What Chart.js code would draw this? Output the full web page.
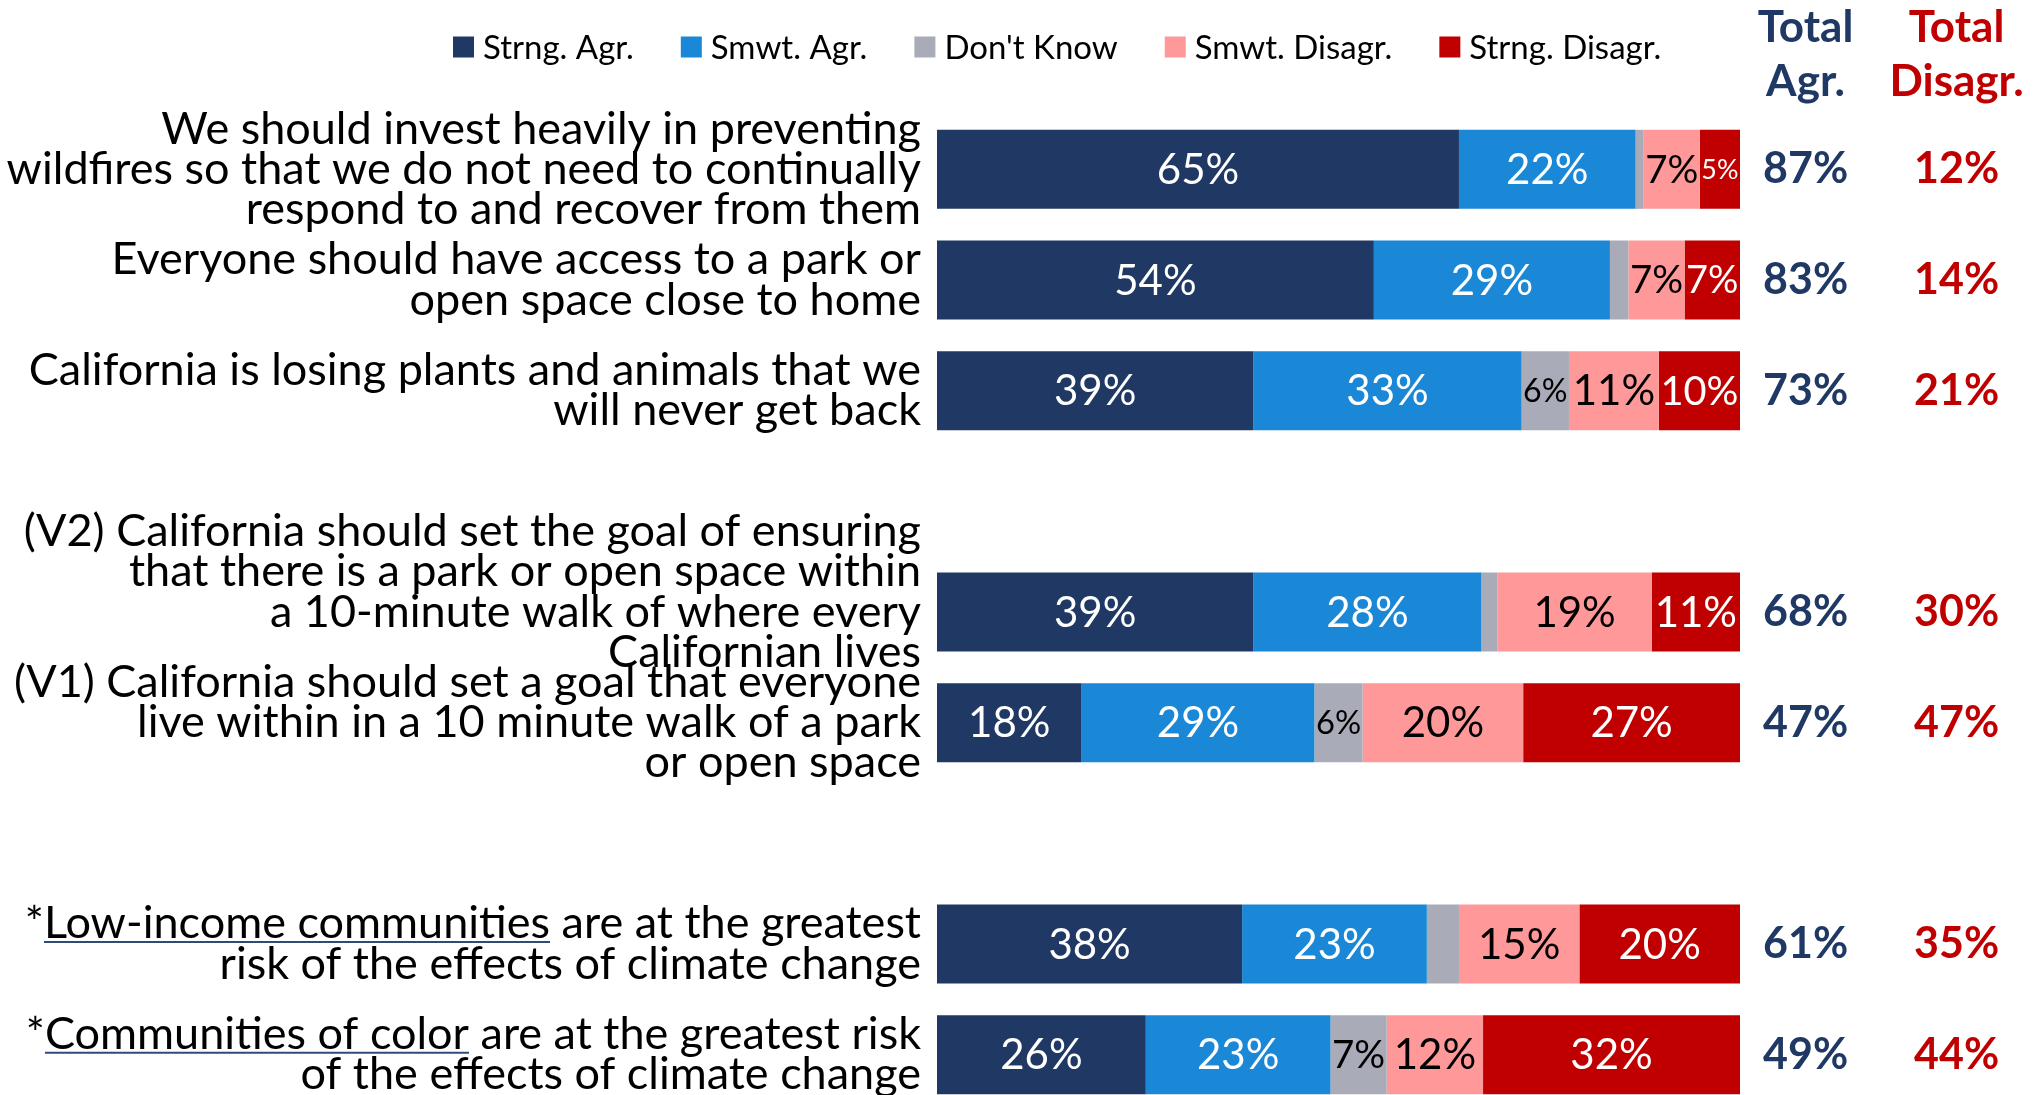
<!DOCTYPE html>
<html>
<head>
<meta charset="utf-8">
<script src="https://cdn.jsdelivr.net/npm/chart.js@4.4.1/dist/chart.umd.min.js"></script>
<style>
  html, body { margin: 0; padding: 0; background: #fff; overflow: hidden; }
  #wrap { width: 2036px; height: 1110px; }
</style>
</head>
<body>
<div id="wrap"><canvas id="chart" width="2036" height="1110"></canvas></div>
<script>
// statements, one per row ('' = empty spacer row)
const statements = [
  ['We should invest heavily in preventing', 'wildfires so that we do not need to continually', 'respond to and recover from them'],
  ['Everyone should have access to a park or', 'open space close to home'],
  ['California is losing plants and animals that we', 'will never get back'],
  '',
  ['(V2) California should set the goal of ensuring', 'that there is a park or open space within', 'a 10-minute walk of where every', 'Californian lives', ''],
  ['(V1) California should set a goal that everyone', 'live within in a 10 minute walk of a park', 'or open space'],
  '',
  ['*Low-income communities are at the greatest', 'risk of the effects of climate change'],
  ['*Communities of color are at the greatest risk', 'of the effects of climate change']
];
const underlined = [null, null, null, null, null, null, null, 'Low-income communities', 'Communities of color'];

const seriesNames = ['Strng. Agr.', 'Smwt. Agr.', "Don't Know", 'Smwt. Disagr.', 'Strng. Disagr.'];
const strngAgr = [65, 54.4, 39.4, null, 39.4, 18, null, 38, 26];
const smwtAgr  = [22, 29.4, 33.4, null, 28.4, 29, null, 23, 23];
const dontKnow = [1, 2.3, 5.9, null, 2.0, 6, null, 4, 7];
const smwtDis  = [7, 7.0, 11.2, null, 19.2, 20, null, 15, 12];
const strngDis = [5, 6.9, 10.1, null, 11.0, 27, null, 20, 32];

const totalAgr    = [87, 83, 73, null, 68, 47, null, 61, 49];
const totalDisagr = [12, 14, 21, null, 30, 47, null, 35, 44];

const FONT = 'Lato, "Open Sans", sans-serif';
const NAVY = '#1f3864';
const RED = '#c00000';
const colors = [NAVY, '#1a88d6', '#a9abb8', '#ff9999', RED];
const labelColors = ['#ffffff', '#ffffff', '#000000', '#000000', '#ffffff'];

const pct = v => v == null ? '' : v + '%';

// percent labels inside the segments, shrunk when the segment is narrow
const barLabels = {
  id: 'barLabels',
  afterDatasetsDraw(chart) {
    const ctx = chart.ctx;
    ctx.save();
    ctx.textAlign = 'center';
    ctx.textBaseline = 'middle';
    chart.data.datasets.forEach((ds, i) => {
      chart.getDatasetMeta(i).data.forEach((bar, j) => {
        const v = ds.data[j];
        if (v == null || Math.round(v) < 5) return;
        const text = Math.round(v) + '%';
        const w = Math.abs(bar.x - bar.base);
        let size = 42;
        ctx.font = size + 'px ' + FONT;
        const tw = ctx.measureText(text).width;
        if (tw > w - 3) size = size * (w - 3) / tw;
        ctx.font = size + 'px ' + FONT;
        ctx.fillStyle = labelColors[i];
        const c = bar.getCenterPoint();
        ctx.fillText(text, c.x, c.y + 1);
      });
    });
    ctx.restore();
  }
};

// legend row, headers over the total columns, underlines in statements
const extras = {
  id: 'extras',
  afterDraw(chart) {
    const ctx = chart.ctx;
    ctx.save();

    // legend
    ctx.font = '33px ' + FONT;
    ctx.textAlign = 'left';
    ctx.textBaseline = 'middle';
    let x = 453;
    const ly = 47;
    chart.data.datasets.forEach(ds => {
      ctx.fillStyle = ds.backgroundColor;
      ctx.fillRect(x, ly - 10.5, 21, 21);
      ctx.fillStyle = '#000';
      ctx.fillText(ds.label, x + 30, ly + 1);
      x += 30 + ctx.measureText(ds.label).width + 47;
    });

    // column headers
    const heads = [['y2', ['Total', 'Agr.'], NAVY, totalAgr], ['y3', ['Total', 'Disagr.'], RED, totalDisagr]];
    heads.forEach(([id, lines, color, vals]) => {
      const s = chart.scales[id];
      ctx.font = 'bold 43px ' + FONT;
      const widest = Math.max(...vals.map(v => ctx.measureText(pct(v)).width));
      const cx = s.left + s.options.ticks.padding + widest / 2;
      ctx.font = 'bold 44px ' + FONT;
      ctx.fillStyle = color;
      ctx.textAlign = 'center';
      lines.forEach((t, k) => ctx.fillText(t, cx, 28 + k * 54));
    });

    // underlined phrases
    const s = chart.scales.y;
    const f = s.options.ticks.font;
    const lh = f.size * f.lineHeight;
    ctx.font = f.size + 'px ' + FONT;
    const xr = s.right - s.options.ticks.padding;
    ctx.strokeStyle = '#2f4b7c';
    ctx.lineWidth = 2;
    statements.forEach((lab, i) => {
      const phrase = underlined[i];
      if (!phrase) return;
      const y0 = s.getPixelForTick(i) - (lab.length - 1) * lh / 2 + f.size * 0.4;
      const start = xr - ctx.measureText(lab[0]).width + ctx.measureText('*').width;
      const end = start + ctx.measureText(phrase).width;
      ctx.beginPath();
      ctx.moveTo(start, y0);
      ctx.lineTo(end, y0);
      ctx.stroke();
    });
    ctx.restore();
  }
};

const seriesData = [strngAgr, smwtAgr, dontKnow, smwtDis, strngDis];

// keep the long labels from shrinking the plot area
const noPad = s => { s.paddingTop = 0; s.paddingBottom = 0; };

new Chart(document.getElementById('chart'), {
  type: 'bar',
  data: {
    labels: statements,
    datasets: seriesNames.map((name, i) => ({
      label: name,
      data: seriesData[i],
      backgroundColor: colors[i],
      borderWidth: 0,
      categoryPercentage: 1,
      barPercentage: 0.714
    }))
  },
  options: {
    indexAxis: 'y',
    responsive: false,
    animation: false,
    layout: { padding: { top: 114, left: 0, right: 0, bottom: 0 } },
    plugins: {
      legend: { display: false },
      tooltip: { enabled: false }
    },
    scales: {
      x: { stacked: true, display: false, min: 0, max: 100 },
      y: {
        stacked: true,
        grid: { display: false, drawTicks: false },
        border: { display: false },
        ticks: { autoSkip: false, color: '#000', padding: 16, font: { family: FONT, size: 45, lineHeight: 0.89 } },
        afterFit: s => { s.width = 937; noPad(s); }
      },
      y2: {
        type: 'category',
        position: 'right',
        offset: true,
        labels: totalAgr.map(pct),
        grid: { display: false, drawTicks: false },
        border: { display: false },
        ticks: { autoSkip: false, crossAlign: 'center', padding: 23, color: NAVY, font: { family: FONT, size: 43, weight: 'bold' } },
        afterFit: s => { s.width = 132; noPad(s); }
      },
      y3: {
        type: 'category',
        position: 'right',
        weight: 1,
        offset: true,
        labels: totalDisagr.map(pct),
        grid: { display: false, drawTicks: false },
        border: { display: false },
        ticks: { autoSkip: false, crossAlign: 'center', padding: 42, color: RED, font: { family: FONT, size: 43, weight: 'bold' } },
        afterFit: s => { s.width = 164; noPad(s); }
      }
    }
  },
  plugins: [barLabels, extras]
});
</script>
</body>
</html>
